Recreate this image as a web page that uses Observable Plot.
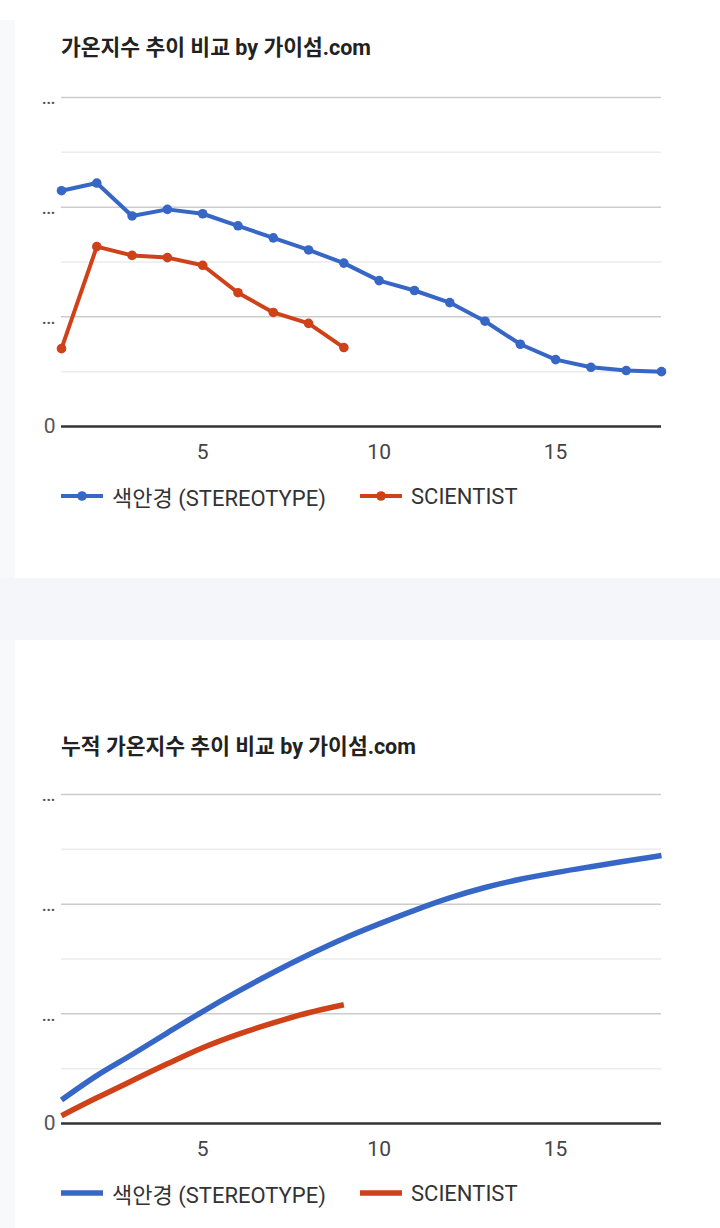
<!DOCTYPE html>
<html><head><meta charset="utf-8">
<script src="https://cdn.jsdelivr.net/npm/d3@7"></script>
<script src="https://cdn.jsdelivr.net/npm/@observablehq/plot@0.6"></script>
<style>
html,body{margin:0;padding:0;background:#fff;}
body{width:720px;height:1228px;position:relative;overflow:hidden;font-family:Roboto,"Noto Sans CJK KR",sans-serif;}
.strip{position:absolute;left:0;top:20px;width:15px;height:1208px;background:#f8f9fb;}
.band{position:absolute;left:0;top:578px;width:720px;height:62px;background:#f4f6f9;}
.title{position:absolute;left:61px;font-weight:bold;font-size:21.5px;color:#222;line-height:24px;height:24px;white-space:nowrap;font-family:Roboto,"Noto Sans CJK KR",sans-serif;}
.chart{position:absolute;left:0;width:720px;}
.leg{position:absolute;display:flex;align-items:center;height:28px;font-size:22px;color:#333;white-space:nowrap;}
.leg svg{margin-right:9px;}
</style>
</head><body>
<div class="strip"></div>
<div class="band"></div>
<div class="title" id="t1" style="top:36px"></div>
<div class="chart" id="c1" style="top:80px"></div>
<div id="l1"></div>
<div class="title" id="t2" style="top:735px"></div>
<div class="chart" id="c2" style="top:777px"></div>
<div id="l2"></div>
<script>
// ---- data ----
const titles = ["가온지수 추이 비교 by 가이섬.com", "누적 가온지수 추이 비교 by 가이섬.com"];
const seriesNames = ["색안경 (STEREOTYPE)", "SCIENTIST"];
const seriesColors = ["#3767c6", "#cf4119"];
const weeks = [1,2,3,4,5,6,7,8,9,10,11,12,13,14,15,16,17,18];
const stereoIndex = [2.15,2.22,1.92,1.98,1.94,1.83,1.72,1.61,1.49,1.33,1.24,1.13,0.96,0.75,0.61,0.54,0.51,0.50];
const scientistIndex = [0.71,1.64,1.56,1.54,1.47,1.22,1.04,0.94,0.72];
const stereoCumulative = [0.215,0.437,0.629,0.827,1.021,1.204,1.377,1.538,1.687,1.82,1.944,2.057,2.152,2.227,2.288,2.342,2.393,2.443];
const scientistCumulative = [0.071,0.234,0.39,0.544,0.691,0.813,0.917,1.01,1.083];
const xTicks = [5,10,15];
const yMajor = [0,1,2,3];
const yMinor = [0.5,1.5,2.5];

function rowsOf(a, b){
  return [
    ...a.map((v,i)=>({x:weeks[i], y:v, s:seriesNames[0]})),
    ...b.map((v,i)=>({x:weeks[i], y:v, s:seriesNames[1]}))
  ];
}

function makeChart(a, b, cumulative){
  const rows = rowsOf(a,b);
  const marks = [
    Plot.ruleY(yMinor, {stroke:"#ebebeb", strokeWidth:1.5}),
    Plot.ruleY(yMajor.filter(d=>d>0), {stroke:"#cccccc", strokeWidth:1.5}),
    Plot.axisX(xTicks, {tickSize:0, tickPadding:26, lineAnchor:"middle", fontSize:21, color:"#444", label:null}),
    Plot.axisY(yMajor, {tickSize:0, tickPadding:6, tickFormat:d=>d===0?"0":"…", fontSize:21, color:"#555", label:null}),
  ];
  if (cumulative) {
    marks.push(Plot.line(rows, {x:"x", y:"y", z:"s", stroke:"s", strokeWidth:5.5, curve:"monotone-x", strokeLinecap:"butt"}));
  } else {
    marks.push(Plot.line(rows, {x:"x", y:"y", z:"s", stroke:"s", strokeWidth:4}));
    marks.push(Plot.dot(rows, {x:"x", y:"y", fill:"s", r:4.8}));
  }
  marks.push(Plot.ruleY([0], {stroke:"#333", strokeWidth:2.5}));
  return Plot.plot({
    width:720, height:390,
    marginLeft:61, marginRight:59, marginTop:17, marginBottom:44,
    x:{domain:[1,18], label:null},
    y:{domain:[0,3], label:null},
    color:{domain:seriesNames, range:seriesColors},
    style:{background:"transparent", fontFamily:"Roboto, 'Noto Sans CJK KR', sans-serif", overflow:"visible"},
    marks
  });
}

function makeLegend(el, top, withDot){
  const lefts = [61, 360];
  seriesNames.forEach((name,i)=>{
    const d = document.createElement("div");
    d.className = "leg";
    d.style.left = lefts[i]+"px";
    d.style.top = (top-14)+"px";
    const sw = withDot
      ? `<svg width="42" height="12"><line x1="0" x2="42" y1="6" y2="6" stroke="${seriesColors[i]}" stroke-width="4"/><circle cx="21" cy="6" r="4.8" fill="${seriesColors[i]}"/></svg>`
      : `<svg width="42" height="12"><line x1="0" x2="42" y1="6" y2="6" stroke="${seriesColors[i]}" stroke-width="5.5"/></svg>`;
    d.innerHTML = sw + `<span>${name}</span>`;
    el.appendChild(d);
  });
}

document.getElementById("t1").textContent = titles[0];
document.getElementById("t2").textContent = titles[1];
document.getElementById("c1").appendChild(makeChart(stereoIndex, scientistIndex, false));
document.getElementById("c2").appendChild(makeChart(stereoCumulative, scientistCumulative, true));
makeLegend(document.getElementById("l1"), 496, true);
makeLegend(document.getElementById("l2"), 1193, false);
</script>
</body></html>
